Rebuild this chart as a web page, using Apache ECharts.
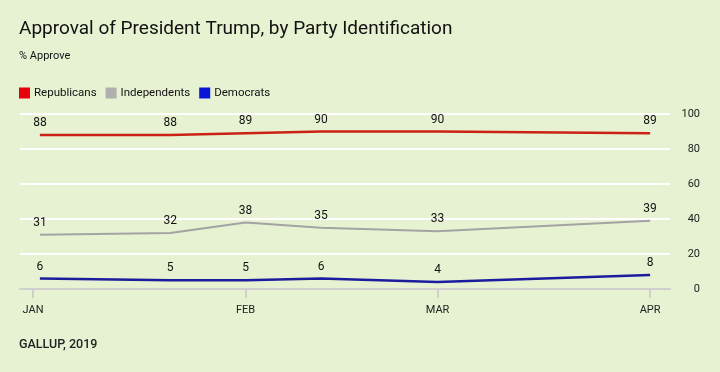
<!DOCTYPE html>
<html>
<head>
<meta charset="utf-8">
<script src="https://cdn.jsdelivr.net/npm/echarts@6/dist/echarts.min.js"></script>
<style>
  html, body { margin: 0; padding: 0; background: #e6f2d2; }
  #chart { width: 720px; height: 372px; }
</style>
</head>
<body>
<div id="chart"></div>
<script>
  // days counted from Jan 1, 2019
  var pollDays = [1, 20, 31, 42, 59, 90]
  var republicans = [88, 88, 89, 90, 90, 89]
  var independents = [31, 32, 38, 35, 33, 39]
  var democrats = [6, 5, 5, 6, 4, 8]
  var monthDays = [0, 31, 59, 90]
  var monthNames = ['JAN', 'FEB', 'MAR', 'APR']

  function pairs(vals) {
    var out = []
    for (var i = 0; i < vals.length; i++) {
      out.push([pollDays[i], vals[i]])
    }
    return out
  }

  var font = 'Roboto, "Noto Sans", sans-serif'
  var myChart = echarts.init(document.getElementById('chart'))

  function lineSeries(name, vals, color, width) {
    return {
      name: name,
      type: 'line',
      data: pairs(vals),
      symbol: 'circle',
      symbolSize: 0,
      showSymbol: true,
      lineStyle: { color: color, width: width },
      itemStyle: { color: color },
      label: {
        show: true,
        position: 'top',
        distance: 6,
        color: '#111',
        fontSize: 12,
        fontFamily: font
      },
      emphasis: { disabled: true }
    }
  }

  var option = {
    backgroundColor: '#e6f2d2',
    animation: false,
    title: [{
      text: 'Approval of President Trump, by Party Identification',
      left: 14,
      top: 15,
      textStyle: { fontSize: 19, fontWeight: 'normal', color: '#111', fontFamily: font }
    }, {
      text: '% Approve',
      left: 14,
      top: 46,
      textStyle: { fontSize: 11, fontWeight: 'normal', color: '#111', fontFamily: font }
    }, {
      text: 'GALLUP, 2019',
      left: 14,
      top: 333,
      textStyle: { fontSize: 12.5, fontWeight: 500, color: '#222', fontFamily: font }
    }],
    legend: {
      left: 14,
      top: 82,
      itemWidth: 11,
      itemHeight: 11,
      itemGap: 9,
      icon: 'rect',
      textStyle: { fontSize: 11.5, color: '#111', fontFamily: font, padding: [0, 0, 0, -1] },
      data: [
        { name: 'Republicans', itemStyle: { color: '#e8000b' } },
        { name: 'Independents', itemStyle: { color: '#b0b0b0' } },
        { name: 'Democrats', itemStyle: { color: '#0a14d8' } }
      ]
    },
    grid: { left: 20, right: 50, top: 114, bottom: 83 },
    xAxis: {
      type: 'value',
      min: -1.9,
      max: 92.9,
      splitLine: { show: false },
      axisLine: { show: true, lineStyle: { color: '#cfcfcf', width: 2 } },
      axisTick: { show: true, customValues: monthDays, length: 9, lineStyle: { color: '#cfcfcf', width: 2 } },
      axisLabel: {
        customValues: monthDays,
        margin: 16,
        color: '#222',
        fontSize: 11,
        fontFamily: font,
        formatter: function (v) {
          return monthNames[monthDays.indexOf(v)]
        }
      }
    },
    yAxis: {
      type: 'value',
      position: 'right',
      min: 0,
      max: 100,
      interval: 20,
      axisLine: { show: false },
      axisTick: { show: false },
      splitLine: { lineStyle: { color: '#ffffff', width: 2 } },
      axisLabel: { align: 'right', margin: 30, color: '#222', fontSize: 11, fontFamily: font }
    },
    series: [
      lineSeries('Republicans', republicans, '#cc2216', 2.5),
      lineSeries('Independents', independents, '#a3a3a3', 2),
      lineSeries('Democrats', democrats, '#1c1c9c', 2.5)
    ]
  }
  myChart.setOption(option)
</script>
</body>
</html>
